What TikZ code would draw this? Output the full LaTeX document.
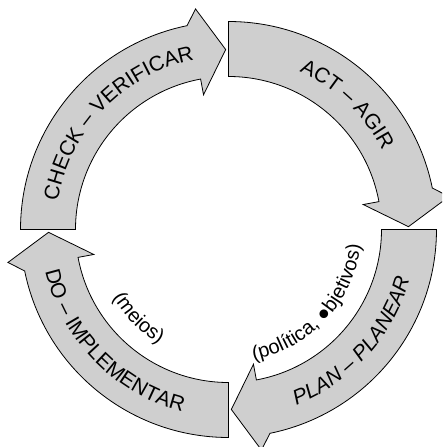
\documentclass[tikz,border=0pt]{standalone}
\usepackage{fontspec}
\setmainfont{Liberation Sans}
\usetikzlibrary{decorations.text}
\begin{document}
\begin{tikzpicture}[x=1pt,y=1pt,
  arrowshape/.style={draw=black, fill=black!19, line width=0.8pt, line join=miter},
  lbl/.style={decorate, decoration={text along path, text align=center, text={#1}}}]
\clip (-228.5,-217.5) rectangle (213.5,229.5);
\foreach \a in {180,90,0,270}{
  \draw[arrowshape] (\a:208) arc[start angle=\a, end angle=\a-78.5, radius=208]
    -- (\a-81.5:223) -- (\a-89.1:180) -- (\a-79.5:137) -- (\a-79.5:153)
    arc[start angle=\a-79.5, end angle=\a, radius=153] -- cycle;
}
\path[lbl={|\fontsize{21}{25}\selectfont|CHECK – VERIFICAR}] (180:173) arc[start angle=180, end angle=92, radius=173];
\path[lbl={|\fontsize{21}{25}\selectfont|ACT – AGIR}] (90:173) arc[start angle=90, end angle=3, radius=173];
\path[lbl={|\fontsize{21}{25}\selectfont\itshape|PLAN – PLANEAR}] (273:188) arc[start angle=273, end angle=363, radius=188];
\path[lbl={|\fontsize{21}{25}\selectfont|DO – IMPLEMENTAR}] (180:188) arc[start angle=180, end angle=268.6, radius=188];
\path[lbl={|\fontsize{20}{24}\selectfont|(meios)}] (180:134) arc[start angle=180, end angle=269, radius=134];
\path[lbl={|\fontsize{20}{24}\selectfont|(política, ●bjetivos)}] (273:133) arc[start angle=273, end angle=361, radius=133];
\end{tikzpicture}
\end{document}
